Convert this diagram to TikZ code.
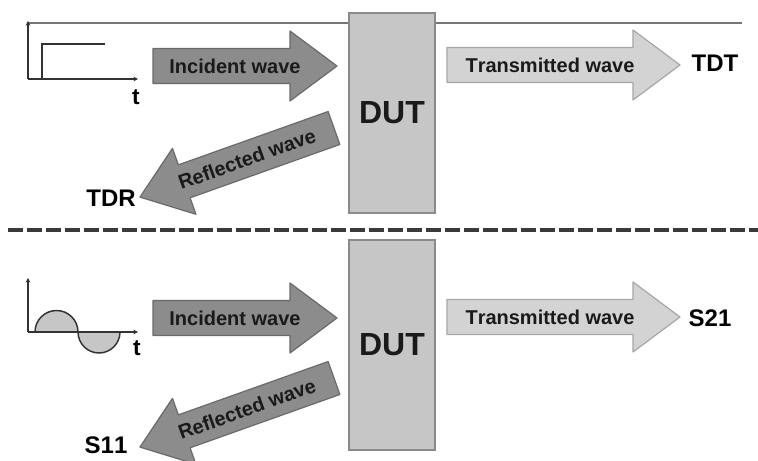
\documentclass[tikz,border=0pt]{standalone}
\usepackage{fontspec}
\setmainfont{Liberation Sans}[Kerning=Off]
\usetikzlibrary{arrows.meta}
\definecolor{darkfill}{HTML}{8C8C8C}
\definecolor{darkedge}{HTML}{6A6A6A}
\definecolor{lightfill}{HTML}{D3D3D3}
\definecolor{lightedge}{HTML}{A6A6A6}
\definecolor{dutfill}{HTML}{C6C6C6}
\definecolor{dutedge}{HTML}{8A8A8A}
\definecolor{linegray}{HTML}{767676}
\definecolor{dashgray}{HTML}{3A3A3A}
\definecolor{txt}{HTML}{1A1A1A}
\tikzset{
  pics/wavearrow/.style={code={
    \path[pic actions] (0,-17.5) -- ({#1-47},-17.5) -- ({#1-47},-35) -- (#1,0)
      -- ({#1-47},35) -- ({#1-47},17.5) -- (0,17.5) -- cycle;}},
  darkarrow/.style={fill=darkfill, draw=darkedge, line width=0.9pt, line join=round},
  lightarrow/.style={fill=lightfill, draw=lightedge, line width=0.9pt, line join=round},
  wv/.style={font=\fontsize{15}{15}\selectfont\bfseries, text=txt, inner sep=0pt},
  lbl/.style={font=\fontsize{18}{18}\selectfont\bfseries, text=black, inner sep=0pt},
  dut/.style={draw=dutedge, fill=dutfill, line width=1.2pt, minimum width=64.5pt,
    font=\fontsize{24}{24}\selectfont\bfseries, text=txt},
  axis/.style={line width=1.4pt, draw=black!80, -{Stealth[length=3.5pt,width=3.5pt]}},
  topline/.style={line width=2.2pt, draw=linegray},
  sep/.style={line width=2.3pt, draw=dashgray, dash pattern=on 11.25pt off 3pt},
  wave/.style={line width=1.1pt, draw=black!80, fill=dutfill},
}
\begin{document}
\begin{tikzpicture}[x=0.75pt, y=0.75pt]
\useasboundingbox (0,0) rectangle (758,461);
% ---------- top (time domain) ----------
\node[dut, minimum height=150pt] (dut1) at (392,348) {DUT};
\coordinate (tl) at (28,438);
\coordinate (tr) at (742,438);
\draw[topline] (tl) -- (tl -| dut1.west);
\draw[topline] (dut1.east |- tl) -- (tr);
\coordinate (o1) at (28,382);
\coordinate (ytop1) at (28,440);
\coordinate (xend1) at (138,382);
\draw[axis] (o1) -- (ytop1);
\draw[axis] (o1) -- (xend1);
\draw[line width=1.3pt, draw=black!80] (42,382) -- (42,417) -- (105,417);
\node[font=\fontsize{17}{17}\selectfont\bfseries, inner sep=0pt] (t1) at (136,364) {t};
\pic[darkarrow] at (153,395) {wavearrow=184};
\node[wv] (inc1) at (235,395) {Incident wave};
\pic[lightarrow] at (447,396) {wavearrow=233};
\node[wv] (tra1) at (550,396) {Transmitted wave};
\node[lbl] (tdt) at (715,398) {TDT};
\pic[darkarrow, rotate=199.6] at (334,333) {wavearrow=206};
\node[wv, rotate=19.6] (ref1) at (247,302) {Reflected wave};
\node[lbl] (tdr) at (111,263) {TDR};
% ---------- separator ----------
\coordinate (sl) at (8,231);
\coordinate (sr) at (758,231);
\draw[sep] (sl) -- (sr);
% ---------- bottom (frequency domain) ----------
\node[dut, minimum height=157.5pt] (dut2) at (392,116) {DUT};
\coordinate (o2) at (28,129);
\coordinate (ytop2) at (28,183);
\coordinate (xend2) at (138,129);
\draw[wave] (35,129) arc[start angle=180, end angle=0, radius=21.5] -- cycle;
\draw[wave] (78,129) arc[start angle=180, end angle=360, radius=21] -- cycle;
\draw[axis] (o2) -- (ytop2);
\draw[axis] (o2) -- (xend2);
\node[font=\fontsize{17}{17}\selectfont\bfseries, inner sep=0pt] (t2) at (137,113) {t};
\pic[darkarrow] at (153,143) {wavearrow=184};
\node[wv] (inc2) at (235,143) {Incident wave};
\pic[lightarrow] at (447,144) {wavearrow=233};
\node[wv] (tra2) at (550,144) {Transmitted wave};
\node[lbl] (s21) at (710,143) {S21};
\pic[darkarrow, rotate=199.6] at (334,83) {wavearrow=206};
\node[wv, rotate=19.6] (ref2) at (247,52) {Reflected wave};
\node[lbl] (s11) at (106,16) {S11};
\end{tikzpicture}
\end{document}
